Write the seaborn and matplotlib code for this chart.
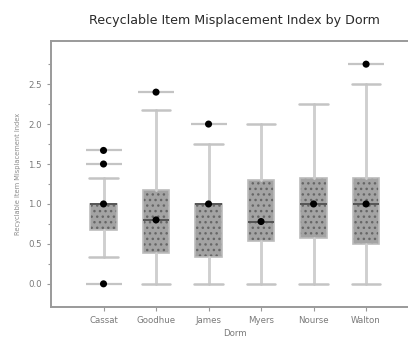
import matplotlib
matplotlib.use("Agg")
import matplotlib.pyplot as plt
import seaborn as sns
import pandas as pd
from matplotlib.ticker import FixedLocator

dorms = ["Cassat", "Goodhue", "James", "Myers", "Nourse", "Walton"]
whislo = [0.33, 0.0, 0.0, 0.0, 0.0, 0.0]
q1 = [0.67, 0.38, 0.33, 0.53, 0.58, 0.50]
med = [1.0, 0.80, 1.0, 0.78, 1.0, 1.0]
q3 = [1.0, 1.17, 1.0, 1.30, 1.33, 1.33]
whishi = [1.33, 2.17, 1.75, 2.0, 2.25, 2.5]
fliers = [[0.0, 1.5, 1.67], [2.4], [2.0], [], [], [2.75]]
yticks = [0.0, 0.5, 1.0, 1.5, 2.0, 2.5]

sns.set_style("ticks")
plt.rcParams["font.family"] = ["DejaVu Sans"]
plt.rcParams["hatch.color"] = "#666666"
plt.rcParams["hatch.linewidth"] = 1.0

W, H = 408, 337
fig = plt.figure(figsize=(W / 100, H / 100), dpi=100)
left, right, top, bottom = 51, 418.6, 41, 307
ax = fig.add_axes([left / W, 1 - bottom / H, (right - left) / W, (bottom - top) / H])

stats = []
for i, d in enumerate(dorms):
    stats.append(dict(label=d, whislo=whislo[i], q1=q1[i], med=med[i],
                      q3=q3[i], whishi=whishi[i], fliers=[]))
pos = list(range(len(dorms)))
# hatched fill
ax.bxp(stats, positions=pos, widths=0.5, patch_artist=True, showfliers=False,
       showcaps=False,
       boxprops=dict(facecolor="#a3a3a3", edgecolor="#666666", linewidth=0, hatch="..."),
       whiskerprops=dict(color="#cfcfcf", linewidth=1.8),
       medianprops=dict(color="#555555", linewidth=1.2))
# outline, caps
ax.bxp(stats, positions=pos, widths=0.5, patch_artist=True, showfliers=False,
       boxprops=dict(facecolor="none", edgecolor="#bcbcbc", linewidth=1.2),
       whiskerprops=dict(color="#cfcfcf", linewidth=1.8),
       capprops=dict(color="#c4c4c4", linewidth=1.8),
       medianprops=dict(color="#555555", linewidth=1.2),
       capwidths=0.54)

# median dots
mdf = pd.DataFrame({"x": pos, "y": med})
sns.scatterplot(data=mdf, x="x", y="y", ax=ax, color="black", s=26, edgecolor="none", zorder=5)

# outliers: horizontal bar with dot
fx, fy = [], []
for i, fl in enumerate(fliers):
    for v in fl:
        fx.append(i)
        fy.append(v)
fdf = pd.DataFrame({"x": fx, "y": fy})
ax.scatter(fdf["x"], fdf["y"], marker="_", s=700, color="#c4c4c4", linewidths=1.6, zorder=4)
sns.scatterplot(data=fdf, x="x", y="y", ax=ax, color="black", s=26, edgecolor="none", zorder=5)

ax.set_xlim(-1, 6)
ax.set_ylim(-0.29, 3.04)
ax.set_xticks(pos)
ax.set_xticklabels(dorms)
ax.yaxis.set_major_locator(FixedLocator(yticks))
ax.yaxis.set_minor_locator(FixedLocator([0.25, 0.75, 1.25, 1.75, 2.25, 2.75]))
ax.set_yticklabels([f"{v:.1f}" for v in yticks])
ax.tick_params(axis="both", colors="#9a9a9a", labelcolor="#7a7a7a", labelsize=6.2, length=3, width=0.8)
ax.tick_params(axis="y", which="minor", length=2, width=0.8, colors="#9a9a9a")
for s in ax.spines.values():
    s.set_color("#9a9a9a")
    s.set_linewidth(1.4)
ax.spines["right"].set_visible(False)

ax.set_xlabel("Dorm", fontsize=6.2, color="#7a7a7a", labelpad=3)
ax.set_ylabel("Recyclable Item Misplacement Index", fontsize=4.8, color="#8a8a8a", labelpad=5)
ax.set_title("Recyclable Item Misplacement Index by Dorm", fontsize=9.1, color="#2a2a2a", pad=12)

fig.savefig("out.png", dpi=100)
